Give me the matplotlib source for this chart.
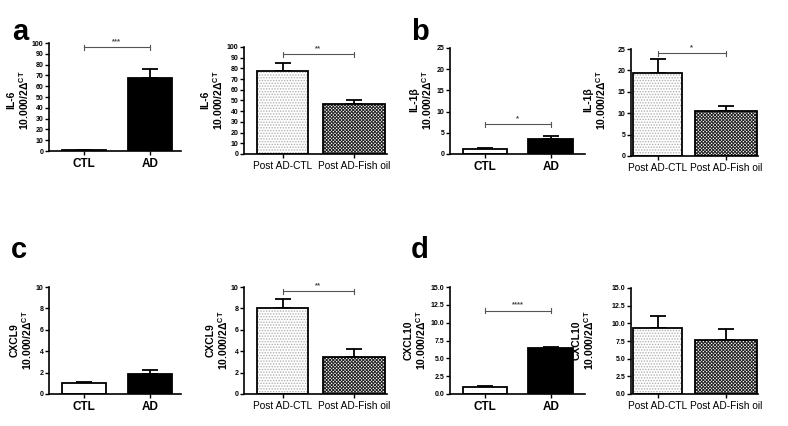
import matplotlib
matplotlib.use("Agg")
import matplotlib.pyplot as plt

plt.rcParams['font.family'] = ['Liberation Sans Narrow', 'Liberation Sans', 'DejaVu Sans']
plt.rcParams['font.weight'] = 'bold'
plt.rcParams['mathtext.default'] = 'regular'
plt.rcParams['hatch.linewidth'] = 0.7

# ---- data ----
groups_pre = ["CTL", "AD"]
groups_post = ["Post AD-CTL", "Post AD-Fish oil"]

il6_pre = [1.0, 68.0]
il6_pre_err = [0.3, 8.0]
il6_post = [78.0, 47.0]
il6_post_err = [7.0, 3.0]

il1b_pre = [1.2, 3.6]
il1b_pre_err = [0.3, 0.7]
il1b_post = [19.5, 10.6]
il1b_post_err = [3.2, 1.1]

cxcl9_pre = [1.0, 1.9]
cxcl9_pre_err = [0.15, 0.35]
cxcl9_post = [8.0, 3.5]
cxcl9_post_err = [0.85, 0.75]

cxcl10_pre = [1.0, 6.5]
cxcl10_pre_err = [0.15, 0.12]
cxcl10_post = [9.4, 7.7]
cxcl10_post_err = [1.7, 1.5]

W, H = 788, 426
fig = plt.figure(figsize=(W / 100, H / 100), dpi=100)


def make_axes(x0, x1, ytop, ybot):
    return fig.add_axes([x0 / W, 1 - ybot / H, (x1 - x0) / W, (ybot - ytop) / H])


def style(ax, ymax, step, fmt, names, xlim, post=False):
    ax.set_ylim(0, ymax)
    ax.set_xlim(*xlim)
    ticks = [i * step for i in range(int(round(ymax / step)) + 1)]
    ax.set_yticks(ticks)
    ax.set_yticklabels([fmt.format(t) for t in ticks], fontsize=5)
    ax.set_xticks([0, 1])
    if post:
        ax.set_xticklabels(names, fontsize=7.3, fontweight="normal")
    else:
        ax.set_xticklabels(names, fontsize=8.5)
    for s in ("top", "right"):
        ax.spines[s].set_visible(False)
    for s in ("left", "bottom"):
        ax.spines[s].set_linewidth(1.2)
    ax.tick_params(axis="y", length=3, width=1, pad=1)
    ax.tick_params(axis="x", length=3, width=1, pad=2)


def ylabel(name, xc, yc):
    fig.text(xc / W, 1 - yc / H, name + "\n10.000/2Δ$^{CT}$", rotation=90,
             ha="center", va="center", multialignment="center",
             fontsize=7.5, fontweight="bold", linespacing=1.1)


def bars(ax, vals, errs, widths, kind):
    if kind == "pre":
        ax.bar([0, 1], vals, width=widths, color=["white", "black"],
               edgecolor="black", linewidth=1.3, zorder=2)
    else:
        ax.bar([0], vals[:1], width=widths[0], color="white", edgecolor="#b0b0b0",
               hatch="......", linewidth=0, zorder=2)
        ax.bar([1], vals[1:], width=widths[1], color="white", edgecolor="#222222",
               hatch="xxxxxxxxxx", linewidth=0, zorder=2)
        ax.bar([0, 1], vals, width=widths, fill=False, edgecolor="black",
               linewidth=1.3, zorder=3)
    ax.errorbar([0, 1], vals, yerr=[[0, 0], errs], fmt="none", ecolor="black",
                elinewidth=1.3, capsize=6, capthick=1.3, zorder=1)


def bracket(ax, y, label, tick):
    ax.plot([0, 1], [y, y], color="#555555", lw=0.8)
    for x in (0, 1):
        ax.plot([x, x], [y - tick, y + tick], color="#555555", lw=0.8)
    ax.text(0.5, y + tick * 0.8, label, ha="center", va="bottom", fontsize=5.5,
            color="#444444")


pre_w = [0.68, 0.68]

# a
ax = make_axes(49, 181, 43, 151)
bars(ax, il6_pre, il6_pre_err, pre_w, "pre")
style(ax, 100, 10, "{:.0f}", groups_pre, (-0.53, 1.47))
bracket(ax, 96, "***", 2.5)
ylabel("IL-6", 19, 100)

ax = make_axes(244, 387, 47, 154)
bars(ax, il6_post, il6_post_err, [0.72, 0.88], "post")
style(ax, 100, 10, "{:.0f}", groups_post, (-0.55, 1.47), post=True)
bracket(ax, 93, "**", 2.5)
ylabel("IL-6", 213, 100)

# b
ax = make_axes(450, 585, 48, 154)
bars(ax, il1b_pre, il1b_pre_err, pre_w, "pre")
style(ax, 25, 5, "{:.0f}", groups_pre, (-0.53, 1.52))
bracket(ax, 7.0, "*", 0.6)
ylabel("IL-1β", 422, 100)

ax = make_axes(631, 758, 49, 156)
bars(ax, il1b_post, il1b_post_err, [0.715, 0.905], "post")
style(ax, 25, 5, "{:.0f}", groups_post, (-0.39, 1.47), post=True)
bracket(ax, 24.0, "*", 0.6)
ylabel("IL-1β", 596, 100)

# c
ax = make_axes(49, 181, 287, 394)
bars(ax, cxcl9_pre, cxcl9_pre_err, pre_w, "pre")
style(ax, 10, 2, "{:.0f}", groups_pre, (-0.53, 1.47))
ylabel("CXCL9", 22, 340)

ax = make_axes(244, 387, 287, 394)
bars(ax, cxcl9_post, cxcl9_post_err, [0.72, 0.88], "post")
style(ax, 10, 2, "{:.0f}", groups_post, (-0.55, 1.47), post=True)
bracket(ax, 9.6, "**", 0.25)
ylabel("CXCL9", 218, 340)

# d
ax = make_axes(450, 585, 287, 394)
bars(ax, cxcl10_pre, cxcl10_pre_err, pre_w, "pre")
style(ax, 15, 2.5, "{:.1f}", groups_pre, (-0.53, 1.52))
bracket(ax, 11.7, "****", 0.4)
ylabel("CXCL10", 416, 340)

ax = make_axes(631, 758, 288, 394)
bars(ax, cxcl10_post, cxcl10_post_err, [0.715, 0.905], "post")
style(ax, 15, 2.5, "{:.1f}", groups_post, (-0.39, 1.47), post=True)
ylabel("CXCL10", 584, 340)

# panel letters
for letter, x, y in [("a", 12, 40), ("b", 411, 40), ("c", 11, 258), ("d", 411, 258)]:
    fig.text(x / W, 1 - y / H, letter, fontsize=21, fontweight="bold",
             family="Liberation Sans", va="baseline")

fig.savefig("out.png", dpi=100)
